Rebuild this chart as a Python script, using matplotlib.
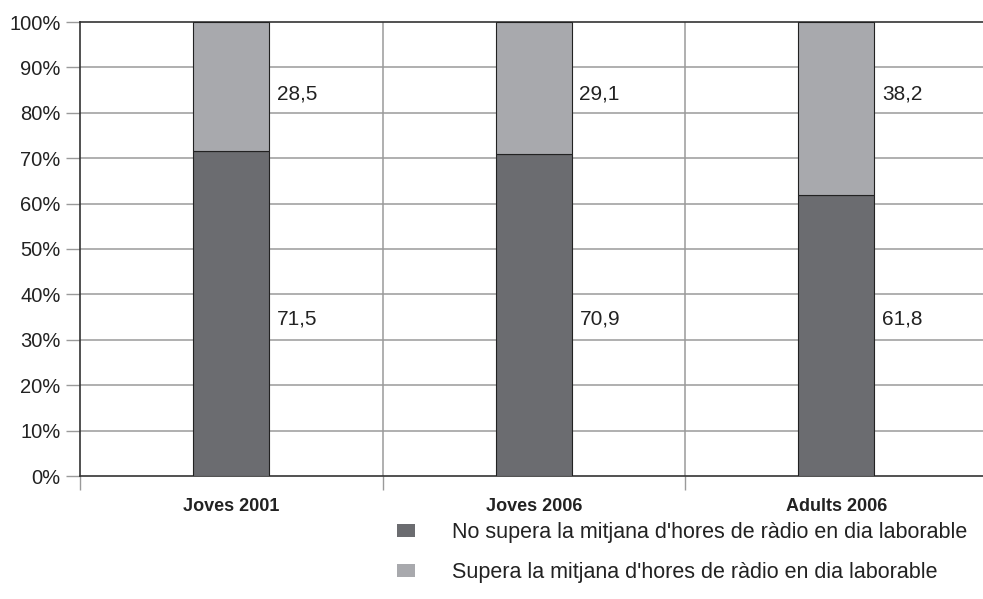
import matplotlib
matplotlib.use("Agg")
import matplotlib.pyplot as plt
from matplotlib.patches import Patch

categories = ["Joves 2001", "Joves 2006", "Adults 2006"]
no_supera = [71.5, 70.9, 61.8]
supera = [28.5, 29.1, 38.2]
no_supera_labels = ["71,5", "70,9", "61,8"]
supera_labels = ["28,5", "29,1", "38,2"]
series_names = ["No supera la mitjana d'hores de ràdio en dia laborable",
                "Supera la mitjana d'hores de ràdio en dia laborable"]
yticks = [0, 10, 20, 30, 40, 50, 60, 70, 80, 90, 100]

DARK = "#6b6c70"
LIGHT = "#a8a9ad"
GRID = "#9a9a9a"
SPINE = "#333333"

plt.rcParams['font.family'] = ['Liberation Sans', 'DejaVu Sans']

fig = plt.figure(figsize=(9.83, 5.99), dpi=100)
ax = fig.add_axes([80/983, 123/599, 907.5/983, 454/599])

x = [i + 0.5 for i in range(len(categories))]
w = 0.25
ax.bar(x, no_supera, width=w, color=DARK, edgecolor="#222222", linewidth=0.8, zorder=3)
ax.bar(x, supera, width=w, bottom=no_supera, color=LIGHT, edgecolor="#222222", linewidth=0.8, zorder=3)

# value labels to the right of bars
for xi, lo, hi in zip(x, no_supera_labels, supera_labels):
    ax.text(xi + w/2 + 0.026, 34.5, lo, ha="left", va="center", fontsize=15, color="#222222", zorder=4)
    ax.text(xi + w/2 + 0.026, 84.2, hi, ha="left", va="center", fontsize=15, color="#222222", zorder=4)

ax.set_xlim(0, len(categories))
ax.set_ylim(0, 100)
ax.set_yticks(yticks)
ax.set_yticklabels([f"{v}%" for v in yticks])
for v in yticks[1:-1]:
    ax.axhline(v, color=GRID, linewidth=1.1, zorder=1)
for b in range(1, len(categories)):
    ax.axvline(b, color=GRID, linewidth=1.1, zorder=1)

ax.set_xticks(range(len(categories) + 1))
ax.set_xticklabels([])
ax.tick_params(axis="x", length=10, width=1, color=GRID, direction="out")
ax.tick_params(axis="y", length=10, width=1, color=GRID, direction="out",
               labelsize=14.5, labelcolor="#222222", pad=4)
for xi, c in zip(x, categories):
    ax.text(xi, -6.8, c, ha="center", va="center", fontsize=13, fontweight="bold",
            color="#222222", transform=ax.transData)

for s in ["left", "bottom", "top"]:
    ax.spines[s].set_color(SPINE)
    ax.spines[s].set_linewidth(1.2)
ax.spines["right"].set_visible(False)

handles = [Patch(facecolor=DARK, edgecolor="none"), Patch(facecolor=LIGHT, edgecolor="none")]
fig.legend(handles, series_names, loc="upper left", bbox_to_anchor=(397/983, 1 - 522/599),
           frameon=False, fontsize=15.5, handlelength=0.82, handleheight=0.57,
           handletextpad=1.75, labelspacing=0.88, borderpad=0, borderaxespad=0,
           labelcolor="#222222")

fig.savefig("out.png", dpi=100)
